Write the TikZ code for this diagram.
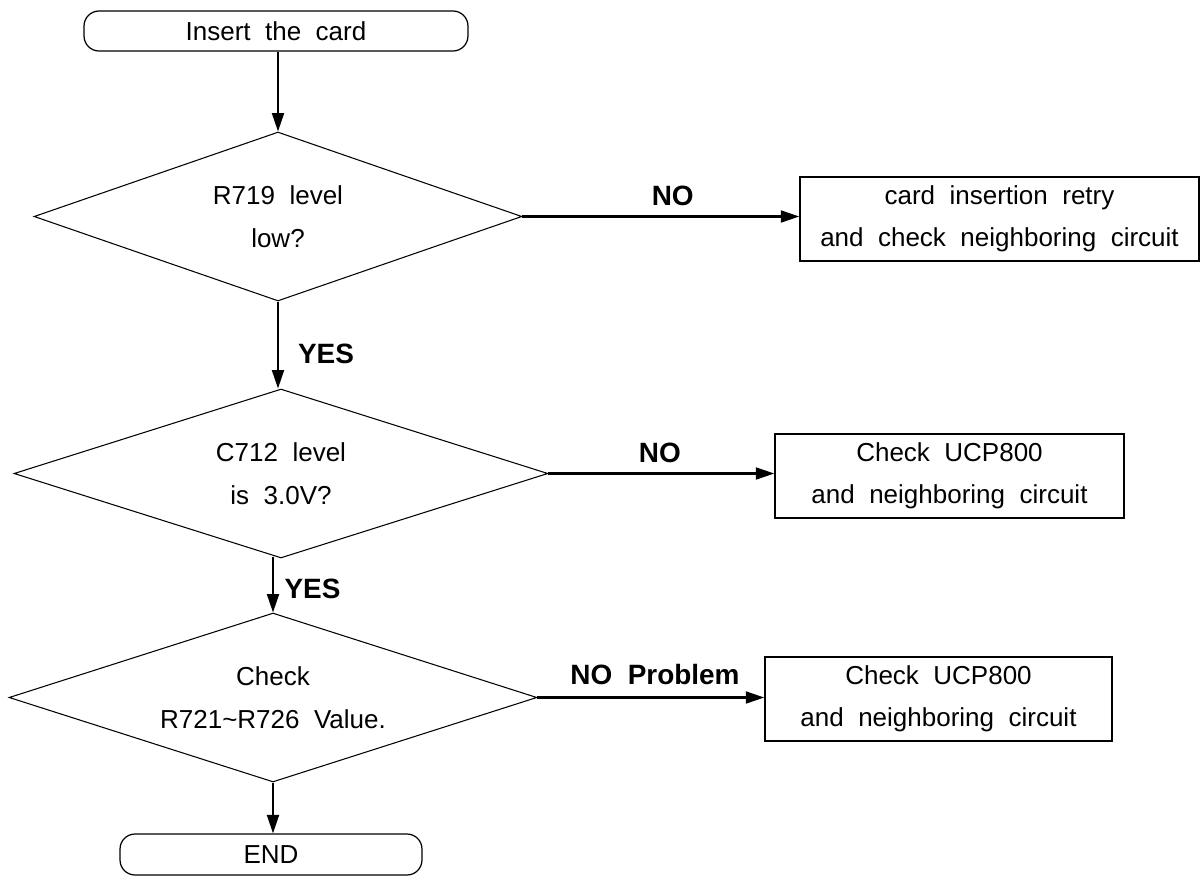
\documentclass[tikz,border=0pt]{standalone}
\usepackage{fontspec}
\setmainfont{Liberation Sans}[WordSpace=2]
\usetikzlibrary{shapes.geometric,arrows.meta}
\begin{document}
\begin{tikzpicture}[x=0.02cm,y=-0.02cm,
  txt/.style={font=\fontsize{14.8}{24}\selectfont, align=center},
  term/.style={draw, line width=0.7pt, rounded corners=0.3cm, inner sep=0pt, txt},
  decision/.style={diamond, aspect=3.1, draw, line width=0.6pt, inner sep=0pt, align=center, font=\fontsize{14.8}{24.5}\selectfont},
  action/.style={draw, line width=0.9pt, inner sep=0pt, txt, minimum height=1.68cm},
  flow/.style={line width=1.2pt, -{Triangle[length=10.5pt,width=6.8pt]}},
  lbl/.style={font=\bfseries\fontsize{15.9}{19}\selectfont, inner sep=0pt}
]
\useasboundingbox (0,0) rectangle (1200,876);
\fill[white] (0,0) rectangle (1200,876);

\node[term, minimum width=7.68cm, minimum height=0.8cm] (start) at (276,31) {Insert the card};
\node[decision, minimum width=9.76cm, minimum height=3.38cm] (d1) at (278,216.5) {R719 level\\low?};
\node[action, minimum width=7.98cm] (b1) at (999.5,219) {card insertion retry\\and check neighboring circuit};
\node[decision, minimum width=10.68cm, minimum height=3.38cm] (d2) at (281,473.5) {C712 level\\is 3.0V?};
\node[action, minimum width=6.98cm] (b2) at (949.5,476) {Check UCP800\\and neighboring circuit};
\node[decision, minimum width=10.56cm, minimum height=3.38cm] (d3) at (273,697.5) {Check\\R721\textasciitilde R726 Value.};
\node[action, minimum width=6.94cm] (b3) at (938.5,699) {Check UCP800\\and neighboring circuit};
\node[term, minimum width=6.04cm, minimum height=0.82cm] (end) at (271,854.5) {END};

\coordinate (j2) at ([yshift=0.04cm]d2.south);

\draw[flow] (start.south -| d1.north) -- (d1.north);
\draw[flow] (d1.east) -- (d1.east -| b1.west) node[lbl, pos=0.543, yshift=0.42cm] (no1) {NO};
\draw[flow] (d1.south) -- (d1.south |- d2.north) node[lbl, pos=0.6, xshift=0.96cm] (yes1) {YES};
\draw[flow] (d2.east) -- (d2.east -| b2.west) node[lbl, pos=0.493, yshift=0.42cm] (no2) {NO};
\draw[flow] (j2 -| d3.north) -- (d3.north) node[lbl, pos=0.58, xshift=0.79cm] (yes2) {YES};
\draw[flow] (d3.east) -- (d3.east -| b3.west) node[lbl, pos=0.518, yshift=0.46cm] (nop) {NO Problem};
\draw[flow] (d3.south) -- (d3.south |- end.north);
\end{tikzpicture}
\end{document}
